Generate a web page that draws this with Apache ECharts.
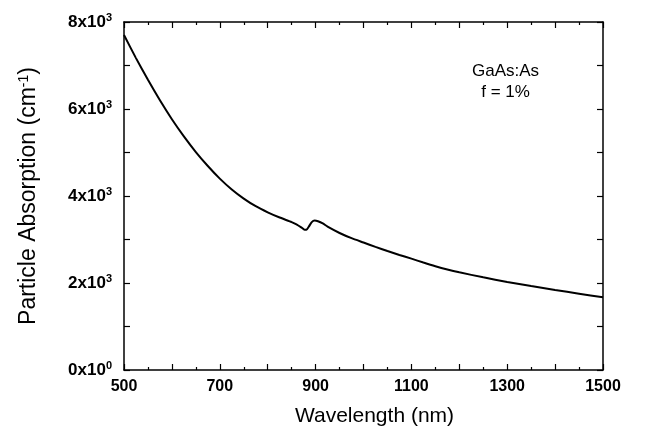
<!DOCTYPE html>
<html>
<head>
<meta charset="utf-8">
<script src="https://cdn.jsdelivr.net/npm/echarts@6/dist/echarts.min.js"></script>
<style>
  html, body { margin: 0; padding: 0; background: #fff; }
  #main { width: 652px; height: 439px; }
</style>
</head>
<body>
<div id="main"></div>
<script>
// wavelength (nm) and particle absorption (cm^-1)
var wavelength = [500, 525, 550, 575, 600, 625, 650, 675, 700, 725, 750, 775, 800, 825, 850, 860, 870, 877, 881, 886, 892, 898, 905, 915, 925, 950, 975, 1000, 1025, 1050, 1075, 1100, 1125, 1150, 1175, 1200, 1250, 1300, 1350, 1400, 1450, 1500];
var absorption = [7700, 7170, 6670, 6200, 5765, 5370, 5010, 4690, 4400, 4150, 3940, 3765, 3625, 3505, 3400, 3350, 3280, 3225, 3225, 3300, 3400, 3435, 3420, 3370, 3295, 3150, 3030, 2930, 2830, 2735, 2645, 2560, 2470, 2385, 2310, 2245, 2130, 2025, 1930, 1840, 1755, 1670];
var xTickLabels = [500, 700, 900, 1100, 1300, 1500];
var yTickLabels = [0, 2000, 4000, 6000, 8000];
var noteLines = ['GaAs:As', 'f = 1%'];

var font = '"Liberation Sans", Arial, sans-serif';
var chart = echarts.init(document.getElementById('main'));

var points = [];
for (var i = 0; i < wavelength.length; i++) {
  points.push([wavelength[i], absorption[i]]);
}

function yLabel(v) {
  if (yTickLabels.indexOf(v) < 0) return '';
  if (v === 0) return '{b|0x10}{s|0}';
  return '{b|' + (v / 1000) + 'x10}{s|3}';
}

var tickStyle = { show: true, inside: true, length: 6, lineStyle: { color: '#000', width: 1.2 } };
var minorStyle = { show: true, splitNumber: 2, length: 3, lineStyle: { color: '#000', width: 1.2 } };

var option = {
  animation: false,
  backgroundColor: '#fff',
  grid: { left: 124, right: 49, top: 22, bottom: 69, show: false },
  xAxis: [
    {
      type: 'value', min: 500, max: 1500, interval: 100,
      name: 'Wavelength (nm)', nameLocation: 'middle', nameGap: 36,
      nameTextStyle: { fontFamily: font, fontSize: 21, color: '#000', padding: [0, 0, 0, 22] },
      axisLine: { lineStyle: { color: '#000', width: 1.5 } },
      axisTick: tickStyle,
      minorTick: minorStyle,
      splitLine: { show: false },
      axisLabel: {
        margin: 9, fontFamily: font, fontSize: 16, fontWeight: 'bold', color: '#000',
        formatter: function (v) { return xTickLabels.indexOf(v) >= 0 ? String(v) : ''; }
      }
    },
    {
      type: 'value', position: 'top', min: 500, max: 1500, interval: 100,
      axisLine: { show: true, onZero: false, lineStyle: { color: '#000', width: 1.5 } },
      axisTick: tickStyle, minorTick: minorStyle,
      splitLine: { show: false }, axisLabel: { show: false }
    }
  ],
  yAxis: [
    {
      type: 'value', min: 0, max: 8000, interval: 1000,
      name: 'Particle Absorption (cm{sup|-1})', nameLocation: 'middle', nameGap: 84, nameRotate: 90,
      nameTextStyle: {
        fontFamily: font, fontSize: 23, color: '#000',
        rich: { sup: { fontFamily: font, fontSize: 14, color: '#000', verticalAlign: 'top' } }
      },
      axisLine: { show: true, lineStyle: { color: '#000', width: 1.5 } },
      axisTick: tickStyle,
      splitLine: { show: false },
      axisLabel: {
        margin: 12, color: '#000',
        formatter: yLabel,
        rich: {
          b: { fontFamily: font, fontSize: 17, fontWeight: 'bold', color: '#000' },
          s: { fontFamily: font, fontSize: 11, fontWeight: 'bold', color: '#000', verticalAlign: 'top', padding: [0, 0, 8, 0] }
        }
      }
    },
    {
      type: 'value', position: 'right', min: 0, max: 8000, interval: 1000,
      axisLine: { show: true, onZero: false, lineStyle: { color: '#000', width: 1.5 } },
      axisTick: tickStyle,
      splitLine: { show: false }, axisLabel: { show: false }
    }
  ],
  graphic: [
    {
      type: 'text', left: 472, top: 61,
      style: {
        text: noteLines.join('\n'), fontFamily: font, fontSize: 17, fill: '#000',
        textAlign: 'center', lineHeight: 21
      }
    }
  ],
  series: [
    {
      type: 'line', data: points, smooth: 0.2, symbol: 'none',
      lineStyle: { color: '#000', width: 2 }
    }
  ]
};
chart.setOption(option);
</script>
</body>
</html>
